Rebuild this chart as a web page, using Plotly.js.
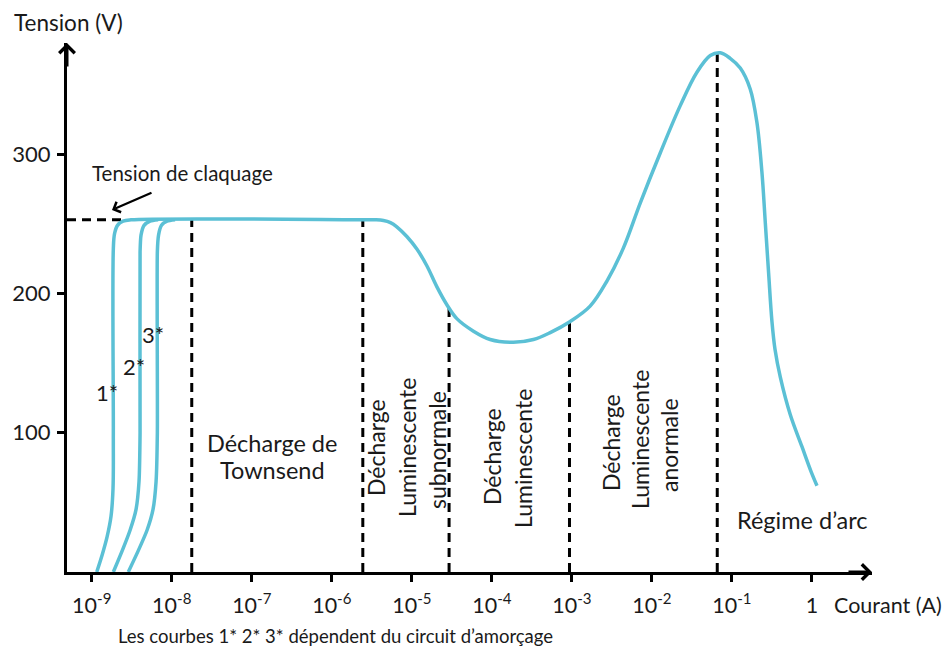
<!DOCTYPE html>
<html>
<head>
<meta charset="utf-8">
<script src="https://cdn.plot.ly/plotly-3.0.1.min.js"></script>
<style>html,body{margin:0;padding:0;background:#fff;}#chart{width:951px;height:652px;}</style>
</head>
<body>
<div id="chart"></div>
<script>
// ---- data (current in A, voltage in V) ----
const riseCurrent1 = [1.155e-9, 1.346e-9, 1.552e-9, 1.742e-9, 1.845e-9, 1.862e-9, 1.862e-9, 1.928e-9, 2.099e-9, 2.460e-9, 3.097e-9];
const riseVoltage1 = [0, 12, 25, 40, 60, 100, 232, 243, 249, 252, 253];
const riseCurrent2 = [1.862e-9, 2.393e-9, 3.013e-9, 3.581e-9, 3.899e-9, 4.018e-9, 4.018e-9, 4.130e-9, 4.508e-9, 5.358e-9, 6.745e-9];
const riseVoltage2 = [0, 15, 30, 45, 65, 100, 230, 242, 249, 252, 253];
const riseCurrent3 = [2.864e-9, 3.793e-9, 4.909e-9, 5.834e-9, 6.368e-9, 6.607e-9, 6.607e-9, 6.839e-9, 7.447e-9, 8.730e-9, 1.099e-8];
const riseVoltage3 = [0, 15, 30, 45, 65, 100, 230, 242, 249, 252, 253];
const mainCurrent = [2.44e-6, 3.5e-6, 4.42e-6, 5.4e-6, 6.49e-6, 8.66e-6, 1.155e-5, 1.54e-5, 2.05e-5, 2.74e-5, 3.65e-5, 5.89e-5, 9.53e-5, 1.86e-4, 3.31e-4, 5.36e-4, 9.53e-4, 1.69e-3, 2.74e-3, 4.42e-3, 7.14e-3, 0.0127, 0.0226, 0.0365, 0.0536, 0.0714, 0.095, 0.127, 0.169, 0.205, 0.237, 0.261, 0.287, 0.316, 0.345, 0.402, 0.536, 0.75, 0.977, 1.155];
const mainVoltage = [253, 253, 252.5, 251, 248, 241, 232, 220, 205, 192, 182, 173, 167, 165, 167, 172, 180, 191, 209, 233, 265, 301, 335, 359, 371, 373, 369, 362, 347, 323, 287, 251, 215, 180, 160, 140, 113, 90, 72, 62];
const boundaryCurrent = [1.778e-8, 2.44e-6, 2.92e-5, 9.33e-4, 0.0655];
const boundaryTop = [253, 253, 190, 180, 372];
const breakdownVoltage = 253;
const breakdownCurrentEnd = 2.4e-9;
const tickCurrents = [1e-9, 1e-8, 1e-7, 1e-6, 1e-5, 1e-4, 1e-3, 1e-2, 1e-1, 1];
const tickCurrentLabels = ['10<sup>-9</sup>', '10<sup>-8</sup>', '10<sup>-7</sup>', '10<sup>-6</sup>', '10<sup>-5</sup>', '10<sup>-4</sup>', '10<sup>-3</sup>', '10<sup>-2</sup>', '10<sup>-1</sup>', '1'];
const tickVoltages = [100, 200, 300];

const X_RANGE = [-9.309, 0.75];
const Y_RANGE = [0, 380];
const CURVE = '#5BC0D5';
const FONT = 'Lato, "Open Sans", sans-serif';
const TXT = '#1a1a1a';

const traces = [];
boundaryCurrent.forEach((c, i) => {
  traces.push({x: [c, c], y: [0, boundaryTop[i]], mode: 'lines', line: {color: '#000', width: 3, dash: '9px,6px'}, hoverinfo: 'skip', showlegend: false});
});
traces.push({x: [Math.pow(10, X_RANGE[0]), breakdownCurrentEnd], y: [breakdownVoltage, breakdownVoltage], mode: 'lines', line: {color: '#000', width: 3, dash: '9px,6px'}, showlegend: false});
traces.push({x: riseCurrent3, y: riseVoltage3, mode: 'lines', line: {color: CURVE, width: 3.5, shape: 'spline', smoothing: 0.6}, showlegend: false});
traces.push({x: riseCurrent2, y: riseVoltage2, mode: 'lines', line: {color: CURVE, width: 3.5, shape: 'spline', smoothing: 0.6}, showlegend: false});
traces.push({x: riseCurrent1.concat(mainCurrent), y: riseVoltage1.concat(mainVoltage), mode: 'lines', line: {color: CURVE, width: 3.5, shape: 'spline', smoothing: 1}, showlegend: false});

// pixel helpers for text placement
const L = 67, T = 43, W = 805, H = 529;
const px = v => (v - L) / W;
const py = v => (T + H - v) / H;
function txt(x, y, text, size, opts) {
  return Object.assign({xref: 'paper', yref: 'paper', x: px(x), y: py(y), text: text, showarrow: false,
    font: {family: FONT, size: size, color: TXT}, xanchor: 'center', yanchor: 'middle'}, opts || {});
}
const R = 23;
const ann = [
  txt(68, 22, 'Tension (V)', 22.5),
  txt(832, 605, 'Courant (A)', 21.5, {xanchor: 'left'}),
  txt(182, 173, 'Tension de claquage', 20.5),
  txt(335, 636, 'Les courbes 1* 2* 3* dépendent du circuit d’amorçage', 18.5),
  txt(107, 392, '1*', 22),
  txt(134, 366, '2*', 22),
  txt(153, 335, '3*', 22),
  txt(272, 443, 'Décharge de', R + 0.5),
  txt(272, 470, 'Townsend', R + 0.5),
  txt(376, 448, 'Décharge', R, {textangle: -90}),
  txt(407, 448, 'Luminescente', R, {textangle: -90}),
  txt(437, 450, 'subnormale', R, {textangle: -90}),
  txt(492, 457, 'Décharge', R, {textangle: -90}),
  txt(523, 459, 'Luminescente', R, {textangle: -90}),
  txt(611, 443, 'Décharge', R, {textangle: -90}),
  txt(640, 440, 'Luminescente', R, {textangle: -90}),
  txt(669, 445, 'anormale', R, {textangle: -90}),
  txt(802, 520, 'Régime d’arc', R + 0.5),
  // breakdown arrow
  {xref: 'paper', yref: 'paper', x: px(112), y: py(210), ax: 41, ay: -18, text: '', showarrow: true,
   arrowhead: 4, arrowsize: 1, arrowwidth: 2.2, arrowcolor: '#000'},
  // axis arrowheads
  {xref: 'x', yref: 'paper', x: X_RANGE[1], y: 0, ax: -25, ay: 0, text: '', showarrow: true,
   arrowhead: 4, arrowsize: 1, arrowwidth: 3, arrowcolor: '#000'},
  {xref: 'paper', yref: 'y', x: 0, y: Y_RANGE[1], ax: 0, ay: 25, text: '', showarrow: true,
   arrowhead: 4, arrowsize: 1, arrowwidth: 3, arrowcolor: '#000'}
];

const layout = {
  width: 951, height: 652,
  margin: {l: L, r: 951 - L - W, t: T, b: 652 - T - H, pad: 0},
  paper_bgcolor: '#fff', plot_bgcolor: '#fff',
  showlegend: false,
  font: {family: FONT, size: 21, color: TXT},
  xaxis: {type: 'log', range: X_RANGE, showgrid: false, zeroline: false,
    showline: true, linecolor: '#000', linewidth: 3,
    ticks: 'outside', ticklen: 7, tickwidth: 3, tickcolor: '#000',
    tickvals: tickCurrents, ticktext: tickCurrentLabels, ticklabelstandoff: 5,
    tickfont: {family: FONT, size: 21.5, color: TXT}},
  xaxis2: {type: 'log', range: X_RANGE, overlaying: 'x', anchor: 'y', side: 'bottom',
    showgrid: false, zeroline: false, showline: false,
    ticks: 'inside', ticklen: 7, tickwidth: 3, tickcolor: '#000',
    tickvals: tickCurrents, showticklabels: false},
  yaxis: {range: Y_RANGE, showgrid: false, zeroline: false,
    showline: true, linecolor: '#000', linewidth: 3,
    ticks: 'outside', ticklen: 7, tickwidth: 3, tickcolor: '#000',
    tickvals: tickVoltages, ticklabelstandoff: 2,
    tickfont: {family: FONT, size: 22, color: TXT}},
  yaxis2: {range: Y_RANGE, overlaying: 'y', anchor: 'x', side: 'left',
    showgrid: false, zeroline: false, showline: false,
    ticks: 'inside', ticklen: 7, tickwidth: 3, tickcolor: '#000',
    tickvals: tickVoltages, showticklabels: false},
  annotations: ann
};
Plotly.newPlot('chart', traces, layout, {staticPlot: true, displayModeBar: false});
</script>
</body>
</html>
